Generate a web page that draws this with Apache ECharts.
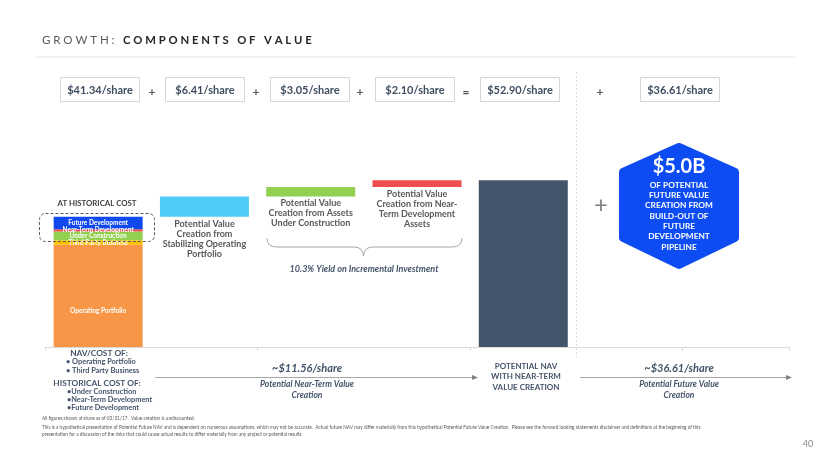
<!DOCTYPE html>
<html>
<head>
<meta charset="utf-8">
<script src="https://cdn.jsdelivr.net/npm/echarts@6/dist/echarts.min.js"></script>
<style>
html,body{margin:0;padding:0;background:#fff;}
#chart{width:830px;height:467px;}
</style>
</head>
<body>
<div id="chart"></div>
<script>
// ---- Data ----
const categories = ['Historical Cost', 'Stabilizing Operating Portfolio', 'Under Construction', 'Near-Term Development', 'Potential NAV', 'Future A', 'Future B'];
const historicalNames = ['Operating Portfolio', 'Third Party Business', 'Under Construction', 'Near-Term Development', 'Future Development'];
const historicalValues = [32.50, 1.40, 2.80, 0.65, 3.99];
const historicalColors = ['#F79646', '#FFC000', '#92D050', '#F04E4E', '#1049EE'];
const incrementValues = [6.41, 3.05, 2.10];
const incrementColors = ['#4FCBF5', '#92D050', '#F04E4E'];
const incrementLabels = [
  'Potential Value\nCreation from\nStabilizing Operating\nPortfolio',
  'Potential Value\nCreation from Assets\nUnder Construction',
  'Potential Value\nCreation from Near-\nTerm Development\nAssets'
];
const navTotal = 52.90;
const shareBoxes = ['$41.34/share', '$6.41/share', '$3.05/share', '$2.10/share', '$52.90/share', '$36.61/share'];
const shareOps = ['+', '+', '+', '=', '+'];
const nearTermValue = '~$11.56/share';
const futureValue = '~$36.61/share';
const pipelineValue = '$5.0B';

// ---- Build series ----
const N = categories.length;
const blank = () => new Array(N).fill('-');
const histTotal = historicalValues.reduce((a, b) => a + b, 0);
const series = [];
historicalNames.forEach((name, i) => {
  const d = blank();
  d[0] = historicalValues[i];
  series.push({
    name: name, type: 'bar', stack: 'w', barWidth: 89,
    data: d,
    itemStyle: { color: historicalColors[i] },
    label: {
      show: true, position: 'inside', formatter: name,
      color: '#fff', fontSize: 6.5, fontFamily: 'Lato', fontWeight: 'bold',
      offset: i === 0 ? [0, 15] : [0, 0]
    }
  });
});
const baseData = blank();
const incData = blank();
let run = histTotal;
incrementValues.forEach((v, i) => {
  baseData[i + 1] = +run.toFixed(2);
  incData[i + 1] = { value: v, itemStyle: { color: incrementColors[i] } };
  run += v;
});
series.push({ name: 'base', type: 'bar', stack: 'w', data: baseData, itemStyle: { color: 'transparent' }, silent: true });
series.push({
  name: 'increment', type: 'bar', stack: 'w', data: incData,
  label: {
    show: true, position: 'bottom', distance: 2,
    formatter: p => incrementLabels[p.dataIndex - 1],
    color: '#595959', fontSize: 9, lineHeight: 10, fontFamily: 'Lato', fontWeight: 'bold', align: 'center'
  }
});
const navData = blank();
navData[4] = navTotal;
series.push({ name: 'Potential NAV', type: 'bar', stack: 'w', data: navData, itemStyle: { color: '#44546A' } });

// ---- Graphic annotations ----
const g = [];
function txt(x, y, text, o) {
  o = o || {};
  g.push({
    type: 'text', z: 100,
    style: {
      x: x, y: y, text: text,
      fill: o.fill || '#44546A',
      font: o.font || 'bold 9px Lato',
      align: o.align || 'center', verticalAlign: o.va || 'middle',
      lineHeight: o.lh
    }
  });
}
const spaced = s => s.split('').join('\u2005').replace(/\u2005 \u2005/g, '\u2005\u2005\u2005');
// title
txt(42, 40, spaced('GROWTH:'), { font: '11.5px Lato', fill: '#595959', align: 'left' });
txt(123, 40, spaced('COMPONENTS OF VALUE'), { font: 'bold 11.3px Lato', fill: '#262626', align: 'left' });
g.push({ type: 'line', shape: { x1: 36, y1: 57, x2: 795, y2: 57 }, style: { stroke: '#e3e3e3', lineWidth: 1 } });

// share boxes
const boxX = [60, 165, 270, 375, 480, 640];
shareBoxes.forEach((s, i) => {
  g.push({ type: 'rect', shape: { x: boxX[i] + 0.5, y: 77.5, width: 79, height: 24 }, style: { fill: '#fff', stroke: '#d6d6d6', lineWidth: 1 } });
  txt(boxX[i] + 40, 90, s, { font: 'bold 11px Lato', fill: '#3F4E61' });
});
const opX = [152, 256, 360, 466, 600];
shareOps.forEach((s, i) => txt(opX[i], 92, s, { font: 'bold 12px Lato', fill: '#595959' }));

// vertical separator
g.push({ type: 'line', shape: { x1: 576.5, y1: 72, x2: 576.5, y2: 357 }, style: { stroke: '#dcdcdc', lineWidth: 1, lineDash: [2, 2] } });

// historical bar annotations
txt(97, 203, 'AT HISTORICAL COST', { font: 'bold 7.8px Lato', fill: '#404040' });
g.push({ type: 'rect', shape: { x: 39.5, y: 213.5, width: 115, height: 28, r: 6 }, style: { fill: 'none', stroke: '#5a5a5a', lineWidth: 1, lineDash: [3, 2] }, z: 100 });

// brace
const braceStyle = { fill: 'none', stroke: '#a6a6a6', lineWidth: 1 };
g.push({ type: 'bezierCurve', shape: { x1: 267, y1: 238, cpx1: 267, cpy1: 247, x2: 277, y2: 247 }, style: braceStyle });
g.push({ type: 'line', shape: { x1: 277, y1: 247, x2: 354, y2: 247 }, style: braceStyle });
g.push({ type: 'bezierCurve', shape: { x1: 354, y1: 247, cpx1: 363, cpy1: 247, x2: 363.5, y2: 256 }, style: braceStyle });
g.push({ type: 'bezierCurve', shape: { x1: 363.5, y1: 256, cpx1: 364, cpy1: 247, x2: 373, y2: 247 }, style: braceStyle });
g.push({ type: 'line', shape: { x1: 373, y1: 247, x2: 452, y2: 247 }, style: braceStyle });
g.push({ type: 'bezierCurve', shape: { x1: 452, y1: 247, cpx1: 462, cpy1: 247, x2: 462, y2: 238 }, style: braceStyle });
txt(364, 269, '10.3% Yield on Incremental Investment', { font: 'italic bold 9px Lato', fill: '#44546A' });

// plus and hexagon
txt(601, 205, '+', { font: '24px Lato', fill: '#7f7f7f' });
g.push({
  type: 'polygon', z: 90,
  shape: { points: [[679, 147], [735, 172], [735, 238], [679, 265], [623, 238], [623, 172]] },
  style: { fill: '#0D4CF2', stroke: '#0D4CF2', lineWidth: 8, lineJoin: 'round' }
});
txt(679, 167, pipelineValue, { font: 'bold 20px Lato', fill: '#fff' });
txt(679, 216, 'OF POTENTIAL\nFUTURE VALUE\nCREATION FROM\nBUILD-OUT OF\nFUTURE\nDEVELOPMENT\nPIPELINE', { font: 'bold 8.3px Lato', fill: '#fff', lh: 10.3 });

// bottom left
txt(99, 353, 'NAV/COST OF:', { font: 'bold 8.3px Lato', fill: '#44546A' });
txt(66, 366, '• Operating Portfolio\n• Third Party Business', { font: 'bold 7.4px Lato', fill: '#44546A', align: 'left', lh: 8.3 });
txt(97, 383, 'HISTORICAL COST OF:', { font: 'bold 8.3px Lato', fill: '#44546A' });
txt(67, 399.5, '•Under Construction\n•Near-Term Development\n•Future Development', { font: 'bold 7.4px Lato', fill: '#44546A', align: 'left', lh: 8.3 });

// arrows
function arrow(x1, x2, y) {
  g.push({ type: 'line', shape: { x1: x1, y1: y, x2: x2 - 4, y2: y }, style: { stroke: '#a6a6a6', lineWidth: 1 } });
  g.push({ type: 'polygon', shape: { points: [[x2, y], [x2 - 6, y - 2.5], [x2 - 6, y + 2.5]] }, style: { fill: '#808080' } });
}
arrow(155, 478, 377.5);
arrow(580, 792, 377.5);
txt(307, 368, nearTermValue, { font: 'italic bold 11px Lato', fill: '#44546A' });
txt(307, 389.5, 'Potential Near-Term Value\nCreation', { font: 'italic bold 8.5px Lato', fill: '#44546A', lh: 11 });
txt(526, 376.5, 'POTENTIAL NAV\nWITH NEAR-TERM\nVALUE CREATION', { font: 'bold 8px Lato', fill: '#44546A', lh: 10.5 });
txt(679, 368, futureValue, { font: 'italic bold 11px Lato', fill: '#44546A' });
txt(679, 389.5, 'Potential Future Value\nCreation', { font: 'italic bold 8.5px Lato', fill: '#44546A', lh: 11 });

// footnotes
const fnFont = '4.7px "Liberation Sans Narrow", Lato';
txt(42, 418, 'All figures shown at share as of 03/31/17.  Value creation is undiscounted.', { font: fnFont, fill: '#595959', align: 'left' });
txt(42, 427, 'This is a hypothetical presentation of Potential Future NAV and is dependent on numerous assumptions, which may not be accurate.  Actual future NAV may differ materially from this hypothetical Potential Future Value Creation.  Please see the forward looking statements disclaimer and definitions at the beginning of this', { font: fnFont, fill: '#595959', align: 'left' });
txt(42, 434, 'presentation for a discussion of the risks that could cause actual results to differ materially from any project or potential results', { font: fnFont, fill: '#595959', align: 'left' });
txt(808, 444, '40', { font: '9px Lato', fill: '#8c8c8c' });

const option = {
  animation: false,
  grid: { left: 45, right: 41, top: 158, bottom: 120 },
  xAxis: {
    type: 'category', data: categories,
    axisLine: { lineStyle: { color: '#dadada' } },
    axisTick: { show: true, length: 4, lineStyle: { color: '#dadada' } },
    axisLabel: { show: false }
  },
  yAxis: { type: 'value', min: 0, max: 60, show: false, splitLine: { show: false } },
  series: series,
  graphic: g
};
const chart = echarts.init(document.getElementById('chart'));
chart.setOption(option);
</script>
</body>
</html>
